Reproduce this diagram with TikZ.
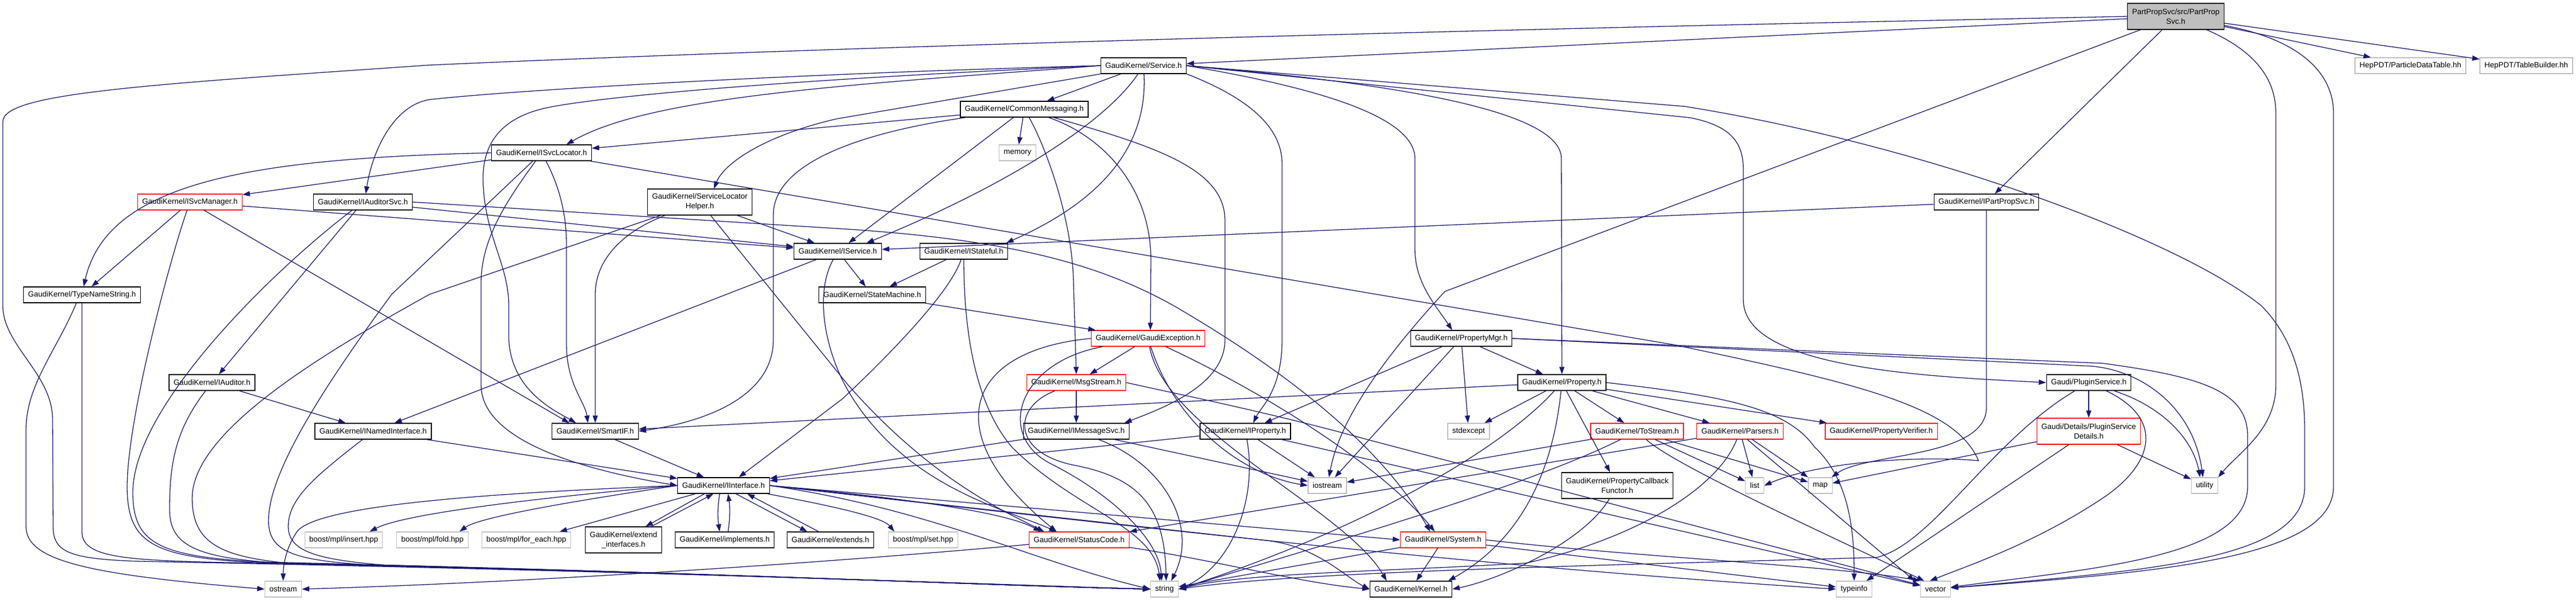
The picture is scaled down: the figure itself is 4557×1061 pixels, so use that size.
\documentclass[tikz,border=0pt]{standalone}
\usepackage{fontspec}
\newfontfamily\doxfont{Liberation Sans}
\usetikzlibrary{arrows.meta}
\definecolor{edgeblue}{HTML}{191970}
\definecolor{hdrgray}{HTML}{BFBFBF}
\definecolor{hdrred}{HTML}{FF0000}
\begin{document}
\begin{tikzpicture}[x=1pt, y=-1pt, >={Triangle[length=13pt,width=9pt]}]
\tikzstyle{hdr}=[draw=black, line width=1.3pt, fill=white, font=\doxfont\fontsize{13.5pt}{17pt}\selectfont, inner xsep=8pt, inner ysep=0pt, minimum height=28pt, align=center]
\tikzstyle{trunc}=[hdr, draw=hdrred]
\tikzstyle{sys}=[hdr, draw=hdrgray]
\tikzstyle{tall}=[minimum height=46pt]
\tikzstyle{dep}=[->, draw=edgeblue, line width=1.3pt]
\useasboundingbox (0,0) rectangle (4557,1061);

\node[hdr, tall, fill=hdrgray] (partpropsvc) at (3849,29) {PartPropSvc/src/PartProp\\Svc.h};
\node[sys] (pdtable) at (4264,116) {HepPDT/ParticleDataTable.hh};
\node[sys] (tbuilder) at (4469,116) {HepPDT/TableBuilder.hh};
\node[hdr] (service) at (2023,116) {GaudiKernel/Service.h};
\node[hdr] (commonmsg) at (1812,193) {GaudiKernel/CommonMessaging.h};
\node[sys] (memory) at (1800,270) {memory};
\node[hdr] (isvclocator) at (958,270) {GaudiKernel/ISvcLocator.h};
\node[trunc] (isvcmanager) at (336,357) {GaudiKernel/ISvcManager.h};
\node[hdr] (iauditorsvc) at (642,357) {GaudiKernel/IAuditorSvc.h};
\node[hdr, tall] (slhelper) at (1238,357) {GaudiKernel/ServiceLocator\\Helper.h};
\node[hdr] (ipartpropsvc) at (3514,357) {GaudiKernel/IPartPropSvc.h};
\node[hdr] (iservice) at (1482,444) {GaudiKernel/IService.h};
\node[hdr] (istateful) at (1705,444) {GaudiKernel/IStateful.h};
\node[hdr] (typenamestr) at (145,521) {GaudiKernel/TypeNameString.h};
\node[hdr] (statemachine) at (1543,521) {GaudiKernel/StateMachine.h};
\node[trunc] (gaudiexc) at (2031,598) {GaudiKernel/GaudiException.h};
\node[hdr] (propertymgr) at (2585,598) {GaudiKernel/PropertyMgr.h};
\node[hdr] (iauditor) at (375,676) {GaudiKernel/IAuditor.h};
\node[trunc] (msgstream) at (1904,676) {GaudiKernel/MsgStream.h};
\node[hdr] (property) at (2763,676) {GaudiKernel/Property.h};
\node[hdr] (pluginsvc) at (3695,676) {Gaudi/PluginService.h};
\node[hdr] (inamedif) at (660,762) {GaudiKernel/INamedInterface.h};
\node[hdr] (smartif) at (1053,762) {GaudiKernel/SmartIF.h};
\node[hdr] (imessagesvc) at (1904,762) {GaudiKernel/IMessageSvc.h};
\node[hdr] (iproperty) at (2203,762) {GaudiKernel/IProperty.h};
\node[sys] (stdexcept) at (2598,762) {stdexcept};
\node[trunc] (tostream) at (2896,762) {GaudiKernel/ToStream.h};
\node[trunc] (parsers) at (3078,762) {GaudiKernel/Parsers.h};
\node[trunc] (propverifier) at (3328,762) {GaudiKernel/PropertyVerifier.h};
\node[trunc, tall] (plugindetails) at (3695,762) {Gaudi/Details/PluginService\\Details.h};
\node[hdr] (iinterface) at (1280,858) {GaudiKernel/IInterface.h};
\node[sys] (iostream) at (2348,858) {iostream};
\node[hdr, tall] (propcallback) at (2861,858) {GaudiKernel/PropertyCallback\\Functor.h};
\node[sys] (list) at (3104,858) {list};
\node[sys] (map) at (3220,858) {map};
\node[sys] (utility) at (3900,858) {utility};
\node[sys] (mplinsert) at (608,954) {boost/mpl/insert.hpp};
\node[sys] (mplfold) at (765,954) {boost/mpl/fold.hpp};
\node[sys] (mplforeach) at (931,954) {boost/mpl/for\_each.hpp};
\node[hdr, tall] (extendif) at (1103,954) {GaudiKernel/extend\\\_interfaces.h};
\node[hdr] (implements) at (1282,954) {GaudiKernel/implements.h};
\node[hdr] (extends) at (1469,954) {GaudiKernel/extends.h};
\node[sys] (mplset) at (1633,954) {boost/mpl/set.hpp};
\node[trunc] (statuscode) at (1909,954) {GaudiKernel/StatusCode.h};
\node[trunc] (system) at (2553,954) {GaudiKernel/System.h};
\node[sys] (ostream) at (501,1041) {ostream};
\node[sys] (string) at (2060,1041) {string};
\node[hdr] (kernel) at (2496,1041) {GaudiKernel/Kernel.h};
\node[sys] (typeinfo) at (3280,1041) {typeinfo};
\node[sys] (vector) at (3424,1041) {vector};

% PartPropSvc.h
\draw[dep] (partpropsvc) -- (service);
\draw[dep] (partpropsvc) -- (ipartpropsvc);
\draw[dep] (partpropsvc) -- (pdtable);
\draw[dep] (partpropsvc) -- (tbuilder);
\draw[dep] (partpropsvc) -- (2556,515) .. controls (2450,630) and (2370,740) .. ([xshift=3pt]iostream.north);
\draw[dep] (partpropsvc) .. controls (3990,90) and (4026,140) .. (4026,200) -- (4026,680) .. controls (4026,760) and (3960,800) .. ([xshift=24pt]utility.north);
\draw[dep] (partpropsvc) .. controls (4070,70) and (4128,130) .. (4128,200) -- (4128,860) .. controls (4128,990) and (3800,1012) .. (vector);
\draw[dep] (partpropsvc.west) .. controls (2600,52) and (1500,82) .. (760,115) .. controls (250,150) and (5,165) .. (5,215) -- (5,540) .. controls (5,610) and (92,660) .. (93,740) -- (94,930) .. controls (94,975) and (120,988) .. (250,992) .. controls (1100,1008) and (1800,1034) .. (string.west);

% Service.h
\draw[dep] (service) -- (commonmsg);
\draw[dep] (service) .. controls (1960,210) and (1800,320) .. ([xshift=51pt]iservice.north);
\draw[dep] (service) .. controls (2030,250) and (1960,350) .. ([xshift=75pt]istateful.north);
\draw[dep] (service.south west) -- (1480,210) .. controls (1350,240) and (1280,290) .. ([xshift=25pt]slhelper.north);
\draw[dep] (service.west) .. controls (1500,150) and (1150,170) .. ([xshift=44pt]isvclocator.north);
\draw[dep] (service.west) .. controls (1400,130) and (900,160) .. (760,176) .. controls (700,185) and (660,260) .. ([xshift=5pt]iauditorsvc.north);
\draw[dep] (service.west) .. controls (1300,145) and (1050,175) .. (980,188) .. controls (880,205) and (850,260) .. (855,330) .. controls (860,420) and (900,470) .. (900,540) -- (900,600) .. controls (905,690) and (980,725) .. ([xshift=-34pt]smartif.north);
\draw[dep] (service.south east) .. controls (2200,170) and (2268,220) .. (2268,290) -- (2268,600) .. controls (2268,690) and (2230,720) .. ([xshift=14pt]iproperty.north);
\draw[dep] (service.east) .. controls (2300,150) and (2503,200) .. (2503,280) -- (2503,440) .. controls (2503,500) and (2540,540) .. ([xshift=-16pt]propertymgr.north);
\draw[dep] (service.east) .. controls (2500,150) and (2762,200) .. (2762,280) -- (property.north);
\draw[dep] (service.east) -- (2990,208) .. controls (3060,222) and (3084,250) .. (3084,300) -- (3084,530) .. controls (3084,650) and (3400,665) .. (pluginsvc.west);
\draw[dep] (service.east) -- (2980,188) .. controls (3400,255) and (3850,420) .. (4000,540) .. controls (4060,600) and (4077,680) .. (4077,760) -- (4077,860) .. controls (4077,990) and (3800,1008) .. (vector);

% CommonMessaging.h
\draw[dep] (commonmsg) -- (memory);
\draw[dep] (commonmsg) -- (isvclocator);
\draw[dep] (commonmsg) -- (iservice);
\draw[dep] (commonmsg) .. controls (1845,250) and (1897,380) .. (1899,500) -- (msgstream.north);
\draw[dep] (commonmsg) .. controls (1950,240) and (2036,330) .. (2036,460) -- ([xshift=4pt]gaudiexc.north);
\draw[dep] (commonmsg) .. controls (2050,260) and (2167,300) .. (2167,390) -- (2167,600) .. controls (2167,680) and (2060,720) .. ([xshift=85pt]imessagesvc.north);
\draw[dep] (commonmsg) .. controls (1550,230) and (1368,280) .. (1368,380) -- (1368,600) .. controls (1368,700) and (1250,745) .. (smartif.east);

% ISvcLocator.h
\draw[dep] (isvclocator) -- (isvcmanager);
\draw[dep] (isvclocator.west) .. controls (450,280) and (190,320) .. ([xshift=3pt]typenamestr.north);
\draw[dep] (isvclocator) .. controls (990,330) and (1002,380) .. (1002,430) -- (1002,610) .. controls (1003,680) and (1035,710) .. ([xshift=-13pt]smartif.north);
\draw[dep] (isvclocator) .. controls (900,350) and (851,420) .. (851,500) -- (851,680) .. controls (851,770) and (1000,825) .. (iinterface.west);
\draw[dep] (isvclocator) -- (693,520) .. controls (560,700) and (475,840) .. (475,920) .. controls (475,975) and (520,990) .. (650,998) .. controls (1300,1014) and (1800,1036) .. (string.west);
\draw[dep] (isvclocator) -- (2960,609) .. controls (3300,680) and (3460,720) .. (3500,814) .. controls (3400,805) and (3220,815) .. (list.east);

% ISvcManager.h
\draw[dep] (isvcmanager) -- (typenamestr);
\draw[dep] (isvcmanager) -- ([xshift=-46pt]smartif.north);
\draw[dep] (isvcmanager) -- (iservice);
\draw[dep] (isvcmanager) .. controls (300,460) and (225,740) .. (225,860) .. controls (225,960) and (270,984) .. (450,994) .. controls (1200,1010) and (1800,1036) .. (string.west);

% IAuditorSvc.h
\draw[dep] (iauditorsvc) -- (iauditor);
\draw[dep] (iauditorsvc) -- (iservice);
\draw[dep] (iauditorsvc.east) -- (1500,405) .. controls (1800,425) and (1950,470) .. (2076,540) .. controls (2300,670) and (2450,800) .. ([xshift=-23pt]system.north);
\draw[dep] (iauditorsvc) .. controls (480,480) and (235,720) .. (235,870) .. controls (235,960) and (280,983) .. (460,993) .. controls (1200,1010) and (1800,1036) .. (string.west);

% ServiceLocatorHelper.h
\draw[dep] (slhelper) -- (iservice);
\draw[dep] (slhelper) .. controls (1100,410) and (1053,460) .. (1053,520) -- (smartif.north);
\draw[dep] (slhelper) -- (760,520) .. controls (580,620) and (340,760) .. (340,880) .. controls (340,960) and (390,985) .. (520,996) .. controls (1250,1012) and (1800,1036) .. (string.west);
\draw[dep] (slhelper) -- (1500,680) .. controls (1650,850) and (1780,905) .. ([xshift=-62pt]statuscode.north);

% IService.h, IStateful.h, StateMachine.h
\draw[dep] (iservice) -- (inamedif);
\draw[dep] (iservice) -- (statemachine);
\draw[dep] (iservice) .. controls (1440,520) and (1460,620) .. (1500,690) .. controls (1600,860) and (1780,900) .. ([xshift=-40pt]statuscode.north);
\draw[dep] (istateful) -- (statemachine);
\draw[dep] (istateful) .. controls (1680,520) and (1560,640) .. (1490,705) -- ([xshift=27pt]iinterface.north);
\draw[dep] (istateful) .. controls (1705,600) and (1730,720) .. (1790,790) .. controls (1900,900) and (2040,930) .. ([xshift=-8pt]string.north);
\draw[dep] (statemachine) -- (gaudiexc);

% IPartPropSvc.h
\draw[dep] (ipartpropsvc) -- (iservice);
\draw[dep] (ipartpropsvc) -- (3514,720) .. controls (3514,810) and (3300,800) .. (map);

% TypeNameString.h, IAuditor.h, INamedInterface.h, SmartIF.h
\draw[dep] ([xshift=-10pt]typenamestr.south) .. controls (100,620) and (46,680) .. (46,760) -- (46,930) .. controls (46,990) and (150,1015) .. (ostream.west);
\draw[dep] (typenamestr.south) -- (145,940) .. controls (145,985) and (220,990) .. (400,994) .. controls (1200,1010) and (1800,1036) .. (string.west);
\draw[dep] (iauditor) -- (inamedif);
\draw[dep] (iauditor) .. controls (310,760) and (300,820) .. (300,900) .. controls (300,960) and (340,984) .. (480,994) .. controls (1200,1010) and (1800,1036) .. (string.west);
\draw[dep] (inamedif) -- (iinterface);
\draw[dep] (inamedif) .. controls (560,840) and (510,880) .. (510,930) .. controls (510,975) and (560,990) .. (700,1000) .. controls (1300,1014) and (1800,1036) .. (string.west);
\draw[dep] (smartif) -- (iinterface);

% IInterface.h
\draw[dep] (iinterface.west) .. controls (900,870) and (560,890) .. (525,940) .. controls (505,970) and (501,1000) .. (ostream.north);
\draw[dep] (iinterface.west) .. controls (1000,875) and (720,905) .. ([xshift=46pt]mplinsert.north);
\draw[dep] (iinterface.west) .. controls (1050,880) and (850,912) .. ([xshift=48pt]mplfold.north);
\draw[dep] ([xshift=-50pt]iinterface.south) -- ([xshift=59pt]mplforeach.north);
\draw[dep] ([xshift=-34pt]iinterface.south) -- ([xshift=39pt]extendif.north);
\draw[dep] ([xshift=49pt]extendif.north) -- ([xshift=-18pt]iinterface.south);
\draw[dep] ([xshift=-7pt]iinterface.south) to[bend right=8] ([xshift=-9pt]implements.north);
\draw[dep] ([xshift=6pt]implements.north) to[bend right=8] ([xshift=8pt]iinterface.south);
\draw[dep] ([xshift=22pt]iinterface.south) -- ([xshift=-41pt]extends.north);
\draw[dep] ([xshift=-21pt]extends.north) -- ([xshift=42pt]iinterface.south);
\draw[dep] (iinterface) .. controls (1450,890) and (1560,912) .. ([xshift=-51pt]mplset.north);
\draw[dep] (iinterface.east) -- (system.west);
\draw[dep] (iinterface.east) .. controls (1600,880) and (1780,905) .. ([xshift=-68pt]statuscode.north);
\draw[dep] (iinterface.east) -- (2240,955) .. controls (2330,965) and (2380,1020) .. (kernel.west);
\draw[dep] (iinterface.east) .. controls (2000,930) and (2600,1000) .. (typeinfo.west);
\draw[dep] (iinterface.east) .. controls (1650,900) and (1820,990) .. (string.west);

% GaudiException.h, MsgStream.h, IMessageSvc.h
\draw[dep] (gaudiexc) -- (msgstream);
\draw[dep] (gaudiexc.west) .. controls (1700,620) and (1660,770) .. ([xshift=-40pt]statuscode.north);
\draw[dep] (gaudiexc) .. controls (1800,640) and (1760,770) .. (1860,820) .. controls (1960,870) and (2050,950) .. ([xshift=-5pt]string.north);
\draw[dep] (gaudiexc) .. controls (2250,700) and (2450,830) .. ([xshift=-15pt]system.north);
\draw[dep] (gaudiexc) .. controls (2060,760) and (2380,900) .. ([xshift=-43pt]kernel.north);
\draw[dep] (gaudiexc) .. controls (2080,750) and (2200,840) .. (iostream.west);
\draw[dep] (msgstream) -- (imessagesvc);
\draw[dep] (msgstream) .. controls (1790,720) and (1790,800) .. (1900,822) .. controls (2020,845) and (2060,900) .. ([xshift=3pt]string.north);
\draw[dep] (msgstream.east) .. controls (2100,700) and (2250,730) .. (2420,777) -- (vector);
\draw[dep] (imessagesvc) -- (iinterface);
\draw[dep] (imessagesvc) .. controls (2060,820) and (2120,930) .. ([xshift=12pt]string.north);
\draw[dep] (imessagesvc) -- (iostream);

% IProperty.h, PropertyMgr.h
\draw[dep] (iproperty) -- (iinterface);
\draw[dep] (iproperty) .. controls (2225,880) and (2180,1000) .. (string.east);
\draw[dep] (iproperty) -- (iostream);
\draw[dep] (iproperty) -- (vector);
\draw[dep] (propertymgr) -- (iproperty);
\draw[dep] (propertymgr) -- (iostream);
\draw[dep] (propertymgr) -- (stdexcept);
\draw[dep] (propertymgr) -- (property);
\draw[dep] (propertymgr.east) -- (3720,642) .. controls (3890,665) and (3976,690) .. (3976,770) -- (3976,860) .. controls (3976,985) and (3700,1005) .. (vector);
\draw[dep] (propertymgr.east) -- (3700,647) .. controls (3790,655) and (3880,720) .. ([xshift=-3pt]utility.north);

% Property.h
\draw[dep] (property) -- (smartif);
\draw[dep] (property) -- (stdexcept);
\draw[dep] (property) -- (tostream);
\draw[dep] (property) -- (propcallback);
\draw[dep] (property) -- (parsers);
\draw[dep] (property) -- (propverifier);
\draw[dep] (property) .. controls (2650,800) and (2400,940) .. (string.east);
\draw[dep] (property) .. controls (2745,850) and (2680,960) .. ([xshift=66pt]kernel.north);
\draw[dep] (property.east) .. controls (3050,700) and (3160,720) .. (3210,790) .. controls (3275,850) and (3280,950) .. (typeinfo.north);

% ToStream.h, PropertyCallbackFunctor.h, System.h, StatusCode.h, Parsers.h
\draw[dep] (tostream) -- (iostream);
\draw[dep] (tostream) .. controls (2700,860) and (2350,960) .. (string.east);
\draw[dep] (tostream) -- (list);
\draw[dep] (tostream) -- (map);
\draw[dep] (tostream) .. controls (2960,820) and (3200,930) .. ([xshift=-20pt]vector.north);
\draw[dep] (propcallback) .. controls (2800,960) and (2650,1025) .. (kernel.east);
\draw[dep] (system) -- (kernel);
\draw[dep] (system) -- (string);
\draw[dep] (system) -- (typeinfo);
\draw[dep] (system.east) .. controls (2900,985) and (3250,1000) .. (vector.north west);
\draw[dep] (statuscode) .. controls (1400,1000) and (900,1030) .. (ostream.east);
\draw[dep] (statuscode) .. controls (2150,990) and (2300,1030) .. (kernel.west);
\draw[dep] (parsers) -- (statuscode);
\draw[dep] (parsers) -- (list);
\draw[dep] (parsers) -- (map);
\draw[dep] ([xshift=13pt]parsers.south) -- ([xshift=-37pt]vector.north);
\draw[dep] (parsers) .. controls (3040,860) and (2900,950) .. (2700,995) .. controls (2450,1010) and (2200,1012) .. (string.east);

% Gaudi/PluginService.h
\draw[dep] (pluginsvc) -- (plugindetails);
\draw[dep] (pluginsvc) .. controls (3830,720) and (3880,780) .. ([xshift=-8pt]utility.north);
\draw[dep] (pluginsvc) .. controls (3830,740) and (3810,820) .. (3720,880) .. controls (3600,960) and (3480,1000) .. ([xshift=-10pt]vector.north);
\draw[dep] (pluginsvc) .. controls (3520,780) and (3420,960) .. (3320,985) .. controls (2800,1000) and (2300,1010) .. (string.east);
\draw[dep] (plugindetails) -- (map);
\draw[dep] (plugindetails) -- (typeinfo);
\draw[dep] (plugindetails) -- (utility);
\end{tikzpicture}
\end{document}
